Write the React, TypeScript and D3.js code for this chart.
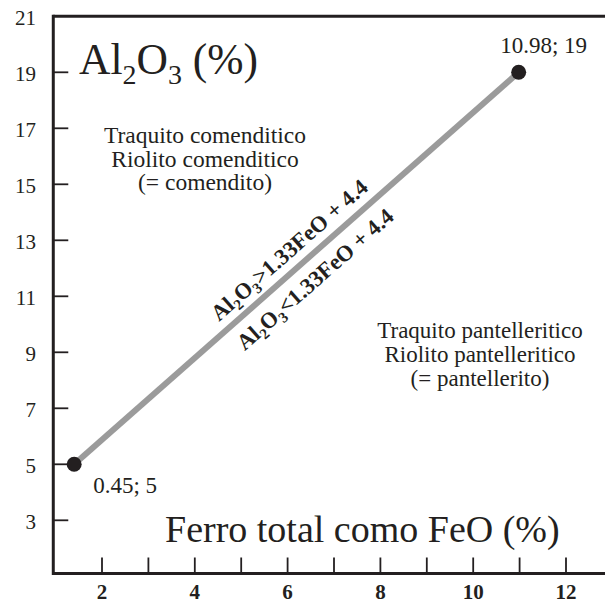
import React from "react";
import * as d3 from "d3";

// ---- data ----
const xTickValues = [2, 3, 4, 5, 6, 7, 8, 9, 10, 11, 12];
const xTickLabels = [2, 4, 6, 8, 10, 12];
const yTickValues = [3, 5, 7, 9, 11, 13, 15, 17, 19];
const yTickLabels = [3, 5, 7, 9, 11, 13, 15, 17, 19, 21];
// plotted positions as they appear in the picture, with their printed labels
const pointX = [1.4, 10.98];
const pointY = [5, 19];
const pointLabels = ["0.45; 5", "10.98; 19"];
const upperRegionLines = ["Traquito comenditico", "Riolito comenditico", "(= comendito)"];
const lowerRegionLines = ["Traquito pantelleritico", "Riolito pantelleritico", "(= pantellerito)"];
const xDomainStart = 0.95;
const yDomain = [1.1, 21];

const W = 605;
const H = 603;
const INK = "#231f20";
const FONT = "'Liberation Serif', 'Times New Roman', serif";

export default function App() {
  const x = d3.scaleLinear().domain([2, 12]).range([102, 566]);
  const y = d3.scaleLinear().domain([3, 19]).range([520.3, 72.3]);

  const left = x(xDomainStart);
  const bottom = y(yDomain[0]);
  const top = y(yDomain[1]);

  const pts = pointX.map((v, i) => ({ px: x(v), py: y(pointY[i]), label: pointLabels[i] }));
  const line = d3.line<{ px: number; py: number }>().x((d) => d.px).y((d) => d.py);

  const p0 = pts[0];
  const p1 = pts[1];
  const dx = p1.px - p0.px;
  const dy = p1.py - p0.py;
  const len = Math.hypot(dx, dy);
  const ang = (Math.atan2(dy, dx) * 180) / Math.PI;
  const along = 303;
  const mx = p0.px + (dx / len) * along;
  const my = p0.py + (dy / len) * along;

  const sub = (s: string, size: number, shift: number) => (
    <tspan fontSize={size} dy={shift}>{s}</tspan>
  );

  return (
    <svg width={W} height={H} style={{ position: "absolute", left: 0, top: 0, display: "block" }} fontFamily={FONT}>
      <rect x={0} y={0} width={W} height={H} fill="#fff" />

      {/* frame */}
      <line x1={left} x2={W} y1={top} y2={top} stroke={INK} strokeWidth={3} />
      <line x1={left} x2={W} y1={bottom} y2={bottom} stroke={INK} strokeWidth={3} />
      <line x1={left} x2={left} y1={top - 1.5} y2={bottom + 1.5} stroke={INK} strokeWidth={3} />

      {/* y ticks */}
      {yTickValues.map((v) => (
        <line key={"yt" + v} x1={left} x2={left + 15} y1={y(v)} y2={y(v)} stroke={INK} strokeWidth={1.8} />
      ))}
      {yTickLabels.map((v) => (
        <text key={"yl" + v} x={36} y={y(v) + 9} textAnchor="end" fontSize={21} fill={INK}>
          {v}
        </text>
      ))}

      {/* x ticks */}
      {xTickValues.map((v) => (
        <line key={"xt" + v} x1={x(v)} x2={x(v)} y1={bottom} y2={bottom - 16} stroke={INK} strokeWidth={1.8} />
      ))}
      {xTickLabels.map((v) => (
        <text key={"xl" + v} x={x(v)} y={599} textAnchor="middle" fontSize={21} fontWeight="bold" fill={INK}>
          {v}
        </text>
      ))}

      {/* axis titles */}
      <text x={79} y={74} fontSize={43.5} fill={INK}>
        Al{sub("2", 28, 10)}
        <tspan dy={-10}>O</tspan>
        {sub("3", 28, 10)}
        <tspan dy={-10}> (%)</tspan>
      </text>
      <text x={165} y={542} fontSize={38} fill={INK}>
        Ferro total como FeO (%)
      </text>

      {/* region labels */}
      {upperRegionLines.map((s, i) => (
        <text key={"u" + i} x={205} y={143 + i * 23.5} textAnchor="middle" fontSize={23.5} fill={INK}>
          {s}
        </text>
      ))}
      {lowerRegionLines.map((s, i) => (
        <text key={"l" + i} x={480} y={338 + i * 24} textAnchor="middle" fontSize={23} fill={INK}>
          {s}
        </text>
      ))}

      {/* boundary line */}
      <path d={line(pts) || ""} stroke="#9b9b9b" strokeWidth={6} fill="none" />
      {pts.map((p, i) => (
        <circle key={"c" + i} cx={p.px} cy={p.py} r={7.5} fill={INK} />
      ))}
      <text x={p0.px + 19} y={p0.py + 29} fontSize={23} fill={INK}>
        {pts[0].label}
      </text>
      <text x={p1.px + 25} y={p1.py - 19} textAnchor="middle" fontSize={23} fill={INK}>
        {pts[1].label}
      </text>

      {/* rotated equations */}
      <g transform={`translate(${mx},${my}) rotate(${ang})`} fontWeight="bold" fontSize={22.5} fill={INK}>
        <text x={0} y={-11} textAnchor="middle">
          Al{sub("2", 15, 5)}
          <tspan dy={-5}>O</tspan>
          {sub("3", 15, 5)}
          <tspan dy={-5}>&gt;1.33FeO + 4.4</tspan>
        </text>
        <text x={0} y={28} textAnchor="middle">
          Al{sub("2", 15, 5)}
          <tspan dy={-5}>O</tspan>
          {sub("3", 15, 5)}
          <tspan dy={-5}>&lt;1.33FeO + 4.4</tspan>
        </text>
      </g>
    </svg>
  );
}
